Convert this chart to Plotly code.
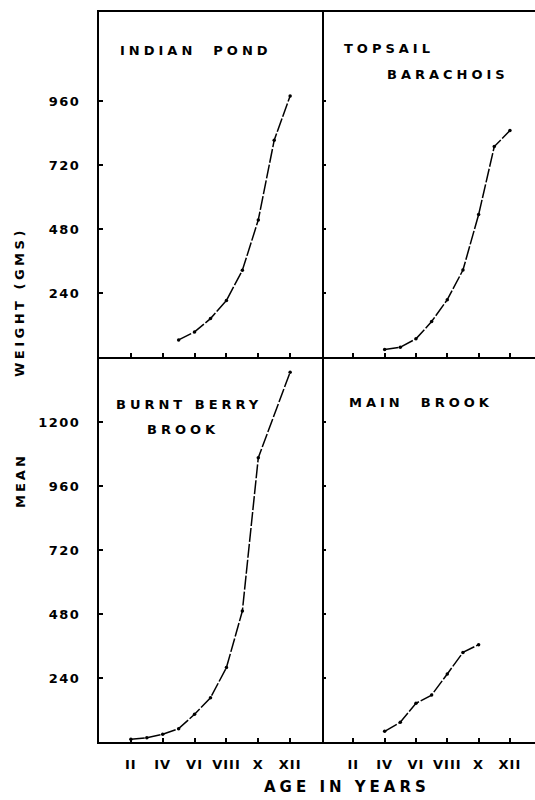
import plotly.graph_objects as go

# ---- data ----
age_indian = [5, 6, 7, 8, 9, 10, 11, 12]
wt_indian = [64, 94, 144, 212, 325, 514, 813, 979]

age_topsail = [4, 5, 6, 7, 8, 9, 10, 11, 12]
wt_topsail = [28, 37, 68, 133, 215, 326, 534, 789, 849]

age_burnt = [2, 3, 4, 5, 6, 7, 8, 9, 10, 12]
wt_burnt = [10, 16, 29, 50, 104, 166, 279, 491, 1066, 1387]

age_main = [4, 5, 6, 7, 8, 9, 10]
wt_main = [40, 74, 145, 176, 255, 336, 365]

x_tick_vals = [2, 4, 6, 8, 10, 12]
x_tick_text = ["II", "IV", "VI", "VIII", "X", "XII"]
y_top_vals = [240, 480, 720, 960]
y_bot_vals = [240, 480, 720, 960, 1200]

W, H = 535, 800
FONT = "DejaVu Sans"


def sp(t, ls):
    return f'<span style="letter-spacing:{ls}px">{t}</span>'


fig = go.Figure()
series = [
    (age_indian, wt_indian, "x", "y"),
    (age_topsail, wt_topsail, "x2", "y2"),
    (age_burnt, wt_burnt, "x3", "y3"),
    (age_main, wt_main, "x4", "y4"),
]
for ax, wy, xa, ya in series:
    fig.add_trace(go.Scatter(
        x=ax, y=wy, xaxis=xa, yaxis=ya, mode="lines+markers",
        line=dict(color="black", width=1.5, dash="14px,2px"),
        marker=dict(color="black", size=3.5),
        showlegend=False, hoverinfo="skip"))

xl = [99 / W, 322 / W]
xr = [322 / W, 1.0]
yt = [(H - 357) / H, (H - 12) / H]
yb = [(H - 742) / H, (H - 357) / H]
top_max = 345 / 64 * 240
bot_max = 385 / 64 * 240

tickfont = dict(family=FONT, size=13, color="black", weight="bold")
common = dict(showgrid=False, zeroline=False, linecolor="black",
              linewidth=2, ticks="inside", ticklen=4, tickwidth=1.5,
              tickcolor="black", tickfont=tickfont)

bottom_ticktext = [sp(t, 1) for t in x_tick_text]
fig.update_layout(
    width=W, height=H, margin=dict(l=0, r=0, t=0, b=0),
    paper_bgcolor="white", plot_bgcolor="white",
    xaxis=dict(domain=xl, anchor="y", range=[0, 14], tickvals=x_tick_vals,
               showticklabels=False, showline=True, mirror=True, **common),
    yaxis=dict(domain=yt, anchor="x", range=[0, top_max], tickvals=y_top_vals,
               ticktext=[sp(str(v), 1.5) for v in y_top_vals],
               ticklabelstandoff=14, showline=True, mirror=True, **common),
    xaxis2=dict(domain=xr, anchor="y2", range=[0, 13.6], tickvals=x_tick_vals,
                showticklabels=False, showline=True, mirror=True, **common),
    yaxis2=dict(domain=yt, anchor="x2", range=[0, top_max], tickvals=y_top_vals,
                showticklabels=False, showline=False, **common),
    xaxis3=dict(domain=xl, anchor="y3", range=[0, 14], tickvals=x_tick_vals,
                ticktext=bottom_ticktext, ticklabelstandoff=9,
                showline=True, mirror=False, **common),
    yaxis3=dict(domain=yb, anchor="x3", range=[0, bot_max], tickvals=y_bot_vals,
                ticktext=[sp(str(v), 1.5) for v in y_bot_vals],
                ticklabelstandoff=14, showline=True, mirror=True, **common),
    xaxis4=dict(domain=xr, anchor="y4", range=[0, 13.6], tickvals=x_tick_vals,
                ticktext=bottom_ticktext, ticklabelstandoff=9,
                showline=True, mirror=False, **common),
    yaxis4=dict(domain=yb, anchor="x4", range=[0, bot_max], tickvals=y_bot_vals,
                showticklabels=False, showline=False, **common),
)


def ann(text, px, py, xanchor="center", size=13, angle=0, ls=4):
    fig.add_annotation(text=sp(text, ls), x=px / W, y=(H - py) / H,
                       xref="paper", yref="paper", xanchor=xanchor,
                       yanchor="middle", showarrow=False, textangle=angle,
                       font=dict(family=FONT, size=size, color="black", weight="bold"))


ann("INDIAN  POND", 196, 51)
ann("TOPSAIL", 342, 48, xanchor="left")
ann("BARACHOIS", 385, 74, xanchor="left")
ann("BURNT BERRY", 189, 404)
ann("BROOK", 183, 429)
ann("MAIN  BROOK", 421, 403)
ann("WEIGHT (GMS)", 20, 302, size=13, angle=-90, ls=3.5)
ann("MEAN", 20, 481, size=13, angle=-90, ls=3)
ann("AGE IN YEARS", 347, 787, size=15, ls=4)

fig.write_html("out.html")
